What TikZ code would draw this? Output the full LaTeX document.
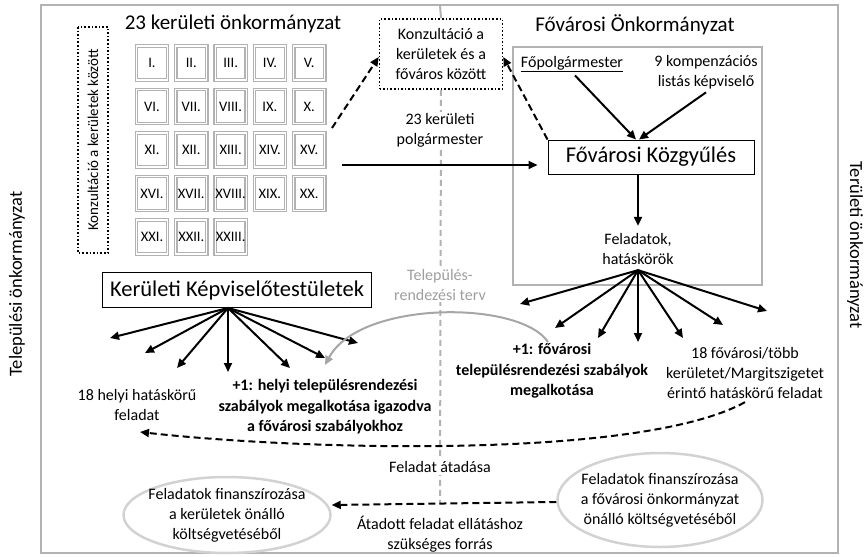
\documentclass[tikz,border=0pt]{standalone}
\usepackage{fontspec}
\setmainfont{Carlito}
\usetikzlibrary{arrows.meta,shapes.geometric}
\tikzset{dist/.style={draw=gray!60,double=white,double distance=1.2pt,line width=1.3pt,
           minimum width=31pt,minimum height=34pt,inner sep=0pt,font=\fontsize{14.5}{16}\selectfont},
         txt/.style={align=center,font=\fontsize{16}{20}\selectfont},
         btxt/.style={align=center,font=\fontsize{16}{20.5}\selectfont\bfseries},
         ttl/.style={font=\fontsize{21}{24}\selectfont},
         big/.style={font=\fontsize{22.5}{26}\selectfont},
         side/.style={font=\fontsize{18.5}{22}\selectfont},
         dots/.style={draw,dotted,line width=1.6pt},
         frame/.style={draw=gray!60,line width=2.5pt},
         tip/.style={-{Triangle[length=9pt,width=8pt]},line width=2pt},
         dtip/.style={tip,dash pattern=on 7pt off 4pt},
         oval/.style={ellipse,draw=gray!35,line width=2.5pt,txt,inner xsep=-9pt,inner ysep=-2pt}
         }

\begin{document}
\begin{tikzpicture}[x=1pt,y=-1pt]
\useasboundingbox (0,0) rectangle (868,557);
\draw[frame] (41,5) rectangle (838,553);
\node[side,rotate=90] (lo) at (17,284) {Települési önkormányzat};
\node[side,rotate=-90] (ro) at (855,245) {Területi önkormányzat};
% kerületek
\node[ttl] (t23) at (233,24) {23 kerületi önkormányzat};
\node[dots,rotate=90,minimum width=226pt,minimum height=30pt,inner sep=0pt,font=\fontsize{15}{18}\selectfont] (kk) at (93,140) {Konzultáció a kerületek között};
\foreach \lbl [count=\i from 0] in {I.,II.,III.,IV.,V.,VI.,VII.,VIII.,IX.,X.,XI.,XII.,XIII.,XIV.,XV.,XVI.,XVII.,XVIII.,XIX.,XX.,XXI.,XXII.,XXIII.}{
  \pgfmathtruncatemacro\col{mod(\i,5)}
  \pgfmathtruncatemacro\row{div(\i,5)}
  \node[dist] (k\i) at (152+39.3*\col,63+43.5*\row) {\makebox[0pt]{\lbl}};
}
% konzultacio, kozepvonal
\node[dots,txt,minimum width=123pt,minimum height=70pt] (ck) at (441,54) {Konzultáció a\\kerületek és a\\főváros között};
\draw[gray!60,line width=2pt] (440,5) -- (ck.north);
\draw[gray!60,line width=2pt,dash pattern=on 6pt off 4pt] (ck.south) -- (440,504) coordinate (mid);
% fovaros
\node[ttl] (tfo) at (635,25) {Fővárosi Önkormányzat};
\draw[frame] (513,47) rectangle (762,285);
\node[txt] (fp) at (572,64) {\underline{Főpolgármester}};
\node[txt] (komp) at (706,72) {9 kompenzációs\\listás képviselő};
\node[draw,line width=1pt,big,minimum width=206pt,minimum height=34pt] (kgy) at (651,157) {Fővárosi Közgyűlés};
\node[txt] (fel) at (638,249) {Feladatok,\\hatáskörök};
\draw[tip] ([xshift=3pt]fp.south) -- ([xshift=-15pt]kgy.north);
\draw[tip] (komp.south) -- ([xshift=-12pt]kgy.north);
\draw[tip] (fel.north |- kgy.south) -- ([yshift=4pt]fel.north);
\node[txt,fill=white,inner sep=1pt] (pol) at (440,130) {23 kerületi\\polgármester};
\coordinate (pm) at (342,165);
\draw[tip,shorten >=10pt] (pm) -- (pm -| kgy.west);
\coordinate (kd) at (332,128);
\draw[dtip] (kd) -- ([yshift=-3pt]ck.west);
\draw[dtip] (kgy.north west) -- ([yshift=-3pt]ck.east);
% kepviselotestuletek
\node[draw,line width=1pt,big,minimum width=269pt,minimum height=35pt] (kt) at (237,290) {Kerületi Képviselőtestületek};
\foreach \x/\y in {110/338,145/353,177/368,228/372,290/368,325/358,358/343}
  \draw[tip] ([xshift=-9pt]kt.south) -- (\x,\y);
\foreach \x/\y in {520/304,555/328,598/338,638/342,683/338,723/325,767/311}
  \draw[tip] ([yshift=-2pt]fel.south) -- (\x,\y);
\node[txt,text=gray!75,fill=white,inner sep=1pt] (trt) at (440,285) {Település-\\rendezési terv};
\node[btxt] (fv1) at (552,371) {+1: fővárosi\\településrendezési szabályok\\megalkotása};
\node[txt] (f18) at (745,373) {18 fővárosi/több\\kerületet/Margitszigetet\\érintő hatáskörű feladat};
\node[btxt] (hb) at (325,407) {+1: helyi településrendezési\\szabályok megalkotása igazodva\\a fővárosi szabályokhoz};
\node[txt] (h18) at (137,405) {18 helyi hatáskörű\\feladat};
\draw[gray!70,line width=2pt,-{Triangle[length=9pt,width=8pt]}] (548,342) .. controls (520,300) and (360,300) .. (325,365);
% atadas
\draw[dtip] (f18.south) .. controls (640,460) and (300,450) .. (140,432);
\node[txt,fill=white,inner sep=2pt] (fa) at (440,467) {Feladat átadása};
\node[oval,minimum width=207pt,minimum height=76pt] (el) at (227,515) {Feladatok finanszírozása\\a kerületek önálló\\költségvetéséből};
\node[oval,minimum width=205pt,minimum height=94pt] (er) at (660,500) {Feladatok finanszírozása\\a fővárosi önkormányzat\\önálló költségvetéséből};
\draw[dtip] ([yshift=-2pt]er.west) -- ([yshift=10pt]el.east);
\node[txt] (af) at (440,534) {Átadott feladat ellátáshoz\\szükséges forrás};
\end{tikzpicture}
\end{document}
